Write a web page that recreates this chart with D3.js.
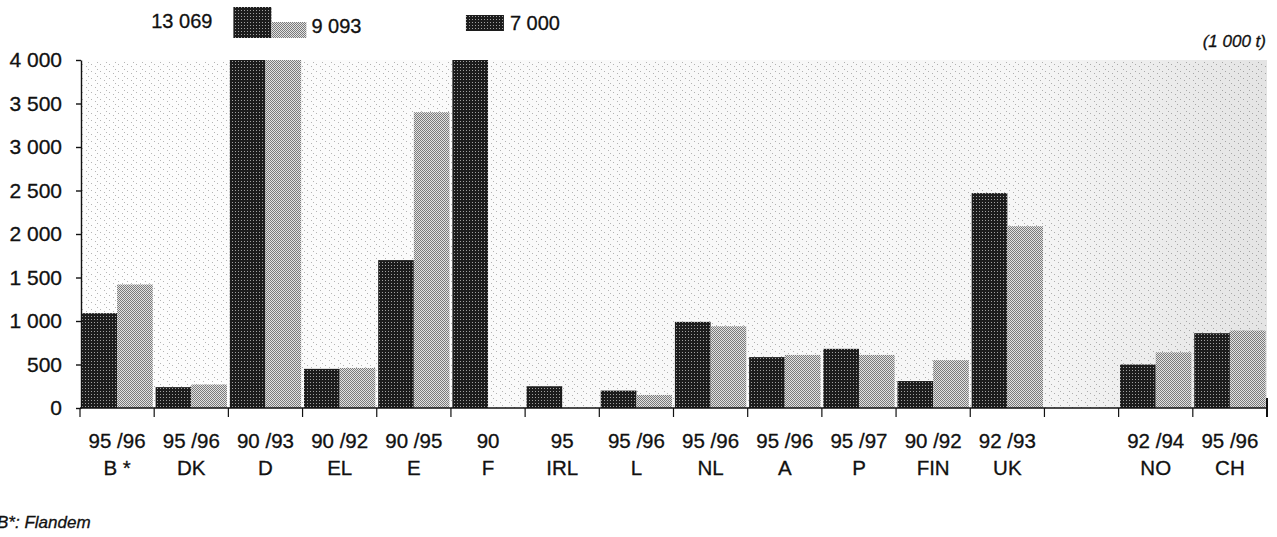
<!DOCTYPE html>
<html>
<head>
<meta charset="utf-8">
<script src="https://cdn.jsdelivr.net/npm/d3@7"></script>
<style>
  body { margin: 0; background: #fff; }
  svg { display: block; font-family: "Liberation Sans", Arial, sans-serif; }
</style>
</head>
<body>
<script>
// countries (empty slot between UK and NO is kept as in the source)
const countries = ["B *", "DK", "D", "EL", "E", "F", "IRL", "L", "NL", "A", "P", "FIN", "UK", "", "NO", "CH"];
const periods = ["95 /96", "95 /96", "90 /93", "90 /92", "90 /95", "90", "95", "95 /96", "95 /96", "95 /96", "95 /97", "90 /92", "92 /93", "", "92 /94", "95 /96"];
// first year of the period (dark) and last year (light), 1 000 t
const firstYear = [1090, 240, 13069, 450, 1700, 7000, 250, 200, 990, 585, 680, 310, 2470, null, 500, 860];
const lastYear = [1420, 270, 9093, 460, 3400, null, null, 150, 940, 610, 610, 550, 2090, null, 640, 890];
const yTicks = [0, 500, 1000, 1500, 2000, 2500, 3000, 3500, 4000];
const yMax = 4000;

const width = 1277,
  height = 537,
  margin = { top: 60, right: 10, bottom: 129, left: 80 };

const locale = d3.formatLocale({ decimal: ",", thousands: " ", grouping: [3], currency: ["", ""] });
const fmt = locale.format(",");

const svg = d3.select("body")
  .append("svg")
  .attr("width", width)
  .attr("height", height);

const defs = svg.append("defs");

const dark = defs.append("pattern")
  .attr("id", "dark").attr("width", 3).attr("height", 3)
  .attr("patternUnits", "userSpaceOnUse");
dark.append("rect").attr("width", 3).attr("height", 3).attr("fill", "#1c1c1c");
dark.append("rect").attr("x", 1).attr("y", 1).attr("width", 1).attr("height", 1).attr("fill", "#a0a0a0");

const light = defs.append("pattern")
  .attr("id", "light").attr("width", 2).attr("height", 2)
  .attr("patternUnits", "userSpaceOnUse");
light.append("rect").attr("width", 2).attr("height", 2).attr("fill", "#e2e2e2");
light.append("rect").attr("width", 1).attr("height", 1).attr("fill", "#7a7a7a");
light.append("rect").attr("x", 1).attr("y", 1).attr("width", 1).attr("height", 1).attr("fill", "#7a7a7a");

// sparse dotted background of the plot area
const bg = defs.append("pattern")
  .attr("id", "bg").attr("width", 9).attr("height", 7)
  .attr("patternUnits", "userSpaceOnUse");
bg.append("rect").attr("width", 9).attr("height", 7).attr("fill", "#fdfdfd");
[[1, 1], [5, 3], [7, 6]].forEach(([px, py]) =>
  bg.append("rect").attr("x", px).attr("y", py).attr("width", 1).attr("height", 1).attr("fill", "#b5b5b5"));

const grad = defs.append("linearGradient").attr("id", "shade");
grad.append("stop").attr("offset", "0%").attr("stop-color", "#000").attr("stop-opacity", 0);
grad.append("stop").attr("offset", "80%").attr("stop-color", "#000").attr("stop-opacity", 0.03);
grad.append("stop").attr("offset", "100%").attr("stop-color", "#000").attr("stop-opacity", 0.1);

const x = d3.scaleBand()
  .domain(d3.range(countries.length))
  .range([margin.left, width - margin.right])
  .paddingInner(0)
  .paddingOuter(0);

const y = d3.scaleLinear()
  .domain([0, yMax])
  .range([height - margin.bottom, margin.top]);

const inner = d3.scaleBand()
  .domain(["first", "last"])
  .range([0, x.bandwidth()])
  .paddingOuter(0.04);

const plot = svg.append("g");
plot.append("rect")
  .attr("x", x.range()[0]).attr("y", y(yMax))
  .attr("width", x.range()[1] - x.range()[0]).attr("height", y(0) - y(yMax))
  .attr("fill", "url(#bg)");
plot.append("rect")
  .attr("x", x.range()[0]).attr("y", y(yMax))
  .attr("width", x.range()[1] - x.range()[0]).attr("height", y(0) - y(yMax))
  .attr("fill", "url(#shade)");

const series = [
  { key: "first", values: firstYear, fill: "url(#dark)" },
  { key: "last", values: lastYear, fill: "url(#light)" }
];

series.forEach(s => {
  plot.selectAll(null)
    .data(s.values.map((v, i) => ({ i, v })).filter(d => d.v != null))
    .enter()
    .append("rect")
    .attr("x", d => x(d.i) + inner(s.key))
    .attr("y", d => y(Math.min(d.v, yMax)))
    .attr("width", inner.bandwidth())
    .attr("height", d => y(0) - y(Math.min(d.v, yMax)))
    .attr("fill", s.fill);
});

// text helper: a touch of stroke to match the heavy scanned lettering
const ink = sel => sel.attr("fill", "#111").attr("stroke", "#111").attr("stroke-width", 0.3);

// y axis
const yAxis = svg.append("g")
  .attr("transform", `translate(${margin.left + 1},0)`)
  .call(d3.axisLeft(y).tickValues(yTicks).tickFormat(fmt).tickSize(5).tickSizeOuter(0));
yAxis.attr("font-family", null).attr("font-size", null);
yAxis.select(".domain").attr("stroke", "#111").attr("stroke-width", 1.4);
yAxis.selectAll(".tick line").attr("stroke", "#111").attr("stroke-width", 1.4);
yAxis.selectAll(".tick text")
  .attr("font-size", 21)
  .attr("x", -19)
  .call(ink);

// x axis with ticks at band edges
const xAxis = svg.append("g");
xAxis.append("line")
  .attr("x1", x.range()[0]).attr("x2", x.range()[1])
  .attr("y1", y(0)).attr("y2", y(0))
  .attr("stroke", "#111").attr("stroke-width", 1.6);
const edges = countries.map((c, i) => x(i)).concat([x.range()[1]]);
xAxis.selectAll(".edge")
  .data(edges)
  .enter()
  .append("line")
  .attr("x1", d => d).attr("x2", d => d)
  .attr("y1", (d, i) => i === edges.length - 1 ? y(0) - 10 : y(0))
  .attr("y2", y(0) + 9)
  .attr("stroke", "#111").attr("stroke-width", (d, i) => i === edges.length - 1 ? 2 : 1.2);

const lab = xAxis.selectAll(".lab")
  .data(countries.map((c, i) => ({ c, p: periods[i], i })))
  .enter()
  .append("g")
  .attr("transform", d => `translate(${x(d.i) + x.bandwidth() / 2},0)`);
lab.append("text")
  .attr("y", y(0) + 40)
  .attr("text-anchor", "middle")
  .attr("font-size", 20.5)
  .call(ink)
  .text(d => d.p);
lab.append("text")
  .attr("y", y(0) + 67)
  .attr("text-anchor", "middle")
  .attr("font-size", 20.5)
  .call(ink)
  .text(d => d.c);

// values above the cut-off, drawn as break markers over the chart
const over = [];
firstYear.forEach((v, i) => { if (v != null && v > yMax) over.push({ i, key: "first", v }); });
lastYear.forEach((v, i) => { if (v != null && v > yMax) over.push({ i, key: "last", v }); });

const breaks = svg.append("g");
over.forEach(d => {
  const both = lastYear[d.i] != null && lastYear[d.i] > yMax;
  const x0 = x(d.i) + (both ? 5 : 15);
  if (d.key === "first") {
    const h = both ? 31 : 16;
    const y0 = both ? 7 : 15;
    breaks.append("rect")
      .attr("x", x0).attr("y", y0).attr("width", 38).attr("height", h)
      .attr("fill", "url(#dark)");
    breaks.append("text")
      .attr("x", both ? x0 - 21 : x0 + 44)
      .attr("y", both ? 28 : 30)
      .attr("text-anchor", both ? "end" : "start")
      .attr("font-size", 20)
      .call(ink)
      .text(fmt(d.v));
  } else {
    breaks.append("rect")
      .attr("x", x0 + 38).attr("y", 22).attr("width", 35).attr("height", 16)
      .attr("fill", "url(#light)");
    breaks.append("text")
      .attr("x", x0 + 78).attr("y", 33)
      .attr("font-size", 20)
      .call(ink)
      .text(fmt(d.v));
  }
});

// unit
svg.append("text")
  .attr("x", width - 11).attr("y", 47)
  .attr("text-anchor", "end")
  .attr("font-size", 17).attr("font-style", "italic")
  .call(ink)
  .text("(1 000 t)");

// footnote (the B is clipped by the page edge in the source)
svg.append("text")
  .attr("x", -3).attr("y", 528)
  .attr("font-size", 17).attr("font-style", "italic")
  .call(ink)
  .text("B*: Flandem");
</script>
</body>
</html>
